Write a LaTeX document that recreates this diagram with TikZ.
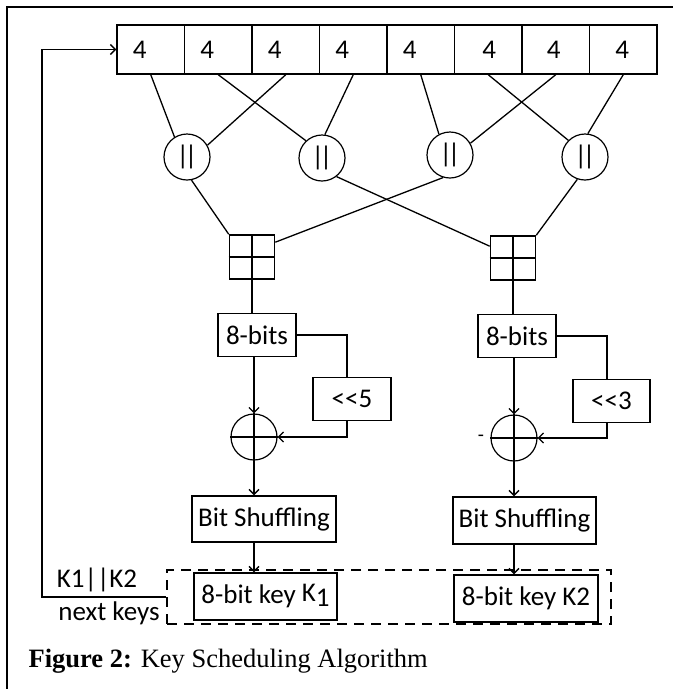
\documentclass[tikz,border=0pt]{standalone}
\usepackage{fontspec}
\setmainfont{Carlito}
\newfontfamily\capfont{Liberation Serif}
\usetikzlibrary{calc,arrows.meta}

\tikzset{
  >={Straight Barb[length=5pt,width=10pt]},
  cell/.style={draw,line width=1.4pt,minimum width=67.5pt,minimum height=49pt,inner sep=0pt},
  cat/.style={draw,circle,line width=1.2pt,minimum size=46pt,inner sep=0pt},
  addbox/.style={draw,line width=1.6pt,minimum width=45pt,minimum height=44pt,inner sep=0pt},
  xorop/.style={draw,circle,line width=1.2pt,minimum size=46pt,inner sep=0pt},
  blk/.style={draw,line width=1.4pt,minimum height=43pt,inner sep=0pt},
  lbl/.style={inner sep=0pt}
}

\begin{document}
\begin{tikzpicture}[x=1pt,y=-1pt,line width=1.3pt,font=\fontsize{27}{30}\selectfont]
\useasboundingbox (0,0) rectangle (673,689);
% frame
\draw[line width=2.6pt] (7,689) -- (7,7) -- (673,7);

% key register
\foreach \i/\dx in {1/-11,2/-11,3/-11,4/-11,5/-11,6/1,7/-2,8/-1}{
  \node[cell] (c\i) at ({117+67.5*(\i-0.5)},49.5) {};
  \node[lbl] (t\i) at ([xshift=\dx pt]c\i.center) {4};
}

% concatenation
\node[cat] (o1) at (187,157) {|\kern-4pt|};
\node[cat] (o2) at (322,158) {|\kern-4pt|};
\node[cat] (o3) at (450,155) {|\kern-4pt|};
\node[cat] (o4) at (585,157) {|\kern-4pt|};
\draw (c1.south) -- (o1.122);
\draw (c3.south) -- (o1.30);
\draw (c2.south) -- (o2.133);
\draw (c4.south) -- (o2.83);
\draw (c5.south) -- (o3.118);
\draw (c7.south) -- (o3.30);
\draw (c6.south) -- (o4.135);
\draw (c8.south) -- (o4.83);

% adders
\node[addbox] (g1) at (252,257) {};
\node[addbox] (g2) at (513,258) {};
\draw[line width=1.6pt] (g1.north) -- (g1.south) (g1.west) -- (g1.east);
\draw[line width=1.6pt] (g2.north) -- (g2.south) (g2.west) -- (g2.east);
\draw (o1.281) -- (g1.north west);
\draw (o3.253) -- ([yshift=-8pt]g1.north east);
\draw (o2.308) -- ([yshift=-11pt]g2.north west);
\draw (o4.251) -- (g2.north east);

% left branch
\node[blk,minimum width=78pt] (b1) at (257,335) {8-bits};
\node[blk,minimum width=78pt] (s1) at (352,399) {<\kern0pt<5};
\node[xorop] (x1) at (254,437) {};
\draw (x1.north) -- (x1.south) (x1.west) -- (x1.east);
\node[blk,minimum width=144pt,minimum height=46pt] (f1) at (264,519) {Bit Shuffling};
\node[blk,minimum width=143pt,minimum height=47pt] (k1) at (265.5,596.5) {8-bit key \raisebox{2pt}{K}\raisebox{-3pt}{1}};
\draw (g1.south) -- (g1.south |- b1.north);
\draw[->] (x1 |- b1.south) -- (x1.north);
\draw (b1.east) -| ([xshift=-5pt]s1.north);
\draw[->] ([xshift=-5pt]s1.south) |- (x1.east);
\draw[->] (x1.south) -- (x1.south |- f1.north);
\draw[->] (x1 |- f1.south) -- (x1 |- k1.north);

% right branch
\node[blk,minimum width=78pt] (b2) at (517,336) {8-bits};
\node[blk,minimum width=77pt] (s2) at (611.5,401) {<\kern0pt<3};
\node[xorop] (x2) at (514,438) {};
\draw (x2.north) -- (x2.south) (x2.west) -- (x2.east);
\node[lbl,font=\fontsize{20}{22}\selectfont] (dot) at (481,438) {-};
\node[blk,minimum width=143pt,minimum height=47pt] (f2) at (524.5,520.5) {Bit Shuffling};
\node[blk,minimum width=144pt,minimum height=47pt] (k2) at (526,598.5) {8-bit key K2};
\draw (g2.south) -- (g2.south |- b2.north);
\draw[->] (x2 |- b2.south) -- (x2.north);
\draw (b2.east) -| ([xshift=-4.5pt]s2.north);
\draw[->] ([xshift=-4.5pt]s2.south) |- (x2.east);
\draw[->] (x2.south) -- (x2.south |- f2.north);
\draw[->] (x2 |- f2.south) -- (x2 |- k2.north);

% next keys
\node[draw,dash pattern=on 10pt off 7pt,line width=1.4pt,minimum width=444pt,minimum height=54pt] (keys) at (389,597) {};
\coordinate (fb) at (42,597);
\draw[->] (keys.west) -- (fb) |- (c1.west);
\node[lbl] (kk) at (97,580) {K1||K2};
\node[lbl] (nk) at (109,613) {next keys};

\node[lbl,anchor=base west,font=\capfont\fontsize{26.5}{30}\selectfont] (cap) at (28,667) {\textbf{Figure 2:} Key Scheduling Algorithm};
\end{tikzpicture}
\end{document}
